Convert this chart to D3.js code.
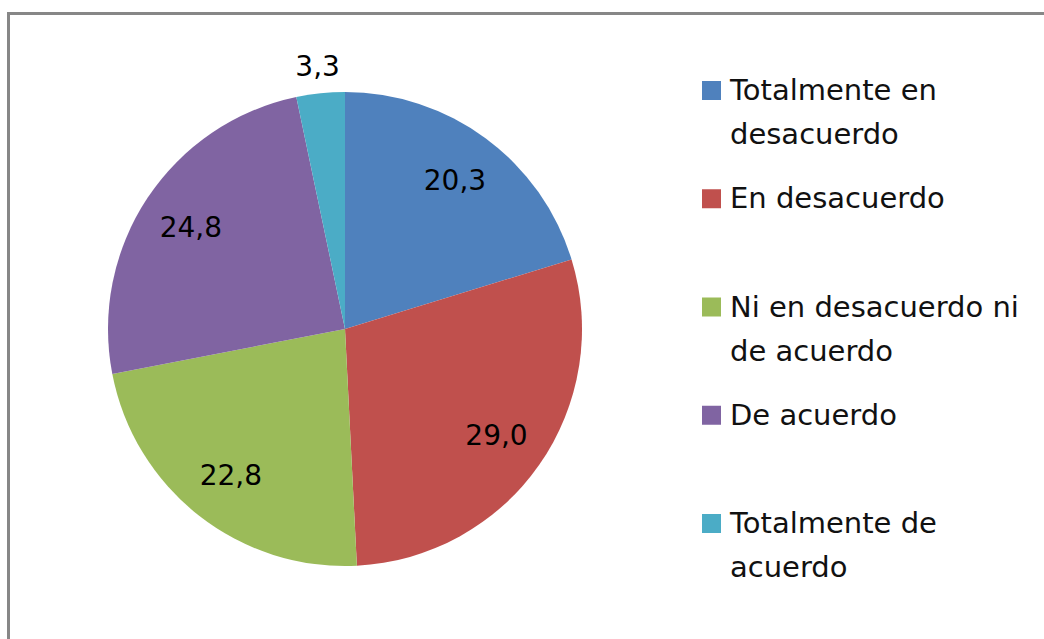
<!DOCTYPE html>
<meta charset="utf-8">
<style>
body { margin: 0; background: #fff; }
text { font-family: "DejaVu Sans", sans-serif; fill: #111; }
</style>
<body>
<script src="https://d3js.org/d3.v7.min.js"></script>
<script>

// data
var categories = ["Totalmente en desacuerdo", "En desacuerdo", "Ni en desacuerdo ni de acuerdo", "De acuerdo", "Totalmente de acuerdo"];
var legendLines = [["Totalmente en", "desacuerdo"], ["En desacuerdo"], ["Ni en desacuerdo ni", "de acuerdo"], ["De acuerdo"], ["Totalmente de", "acuerdo"]];
var values = [20.3, 29.0, 22.8, 24.8, 3.3];
var valueLabels = ["20,3", "29,0", "22,8", "24,8", "3,3"];
var colors = ["#4f81bd", "#c0504d", "#9bbb59", "#8064a2", "#4bacc6"];

var width = 1044, height = 639;
var cx = 345, cy = 329, radius = 237;

var svg = d3.select("body").append("svg")
    .attr("width", width)
    .attr("height", height);

// chart border (runs off the right and bottom edges)
svg.append("rect")
    .attr("x", 8.5).attr("y", 13.5)
    .attr("width", 1100).attr("height", 700)
    .attr("fill", "#fff")
    .attr("stroke", "#878787")
    .attr("stroke-width", 3);

var color = d3.scaleOrdinal().domain(categories).range(colors);

var pie = d3.pie().sort(null).value(function(d) { return d.value; });
var data = categories.map(function(c, i) { return {name: c, value: values[i], label: valueLabels[i]}; });

var arc = d3.arc().innerRadius(0).outerRadius(radius);
var labelArc = d3.arc().innerRadius(185).outerRadius(185);
var outerLabelArc = d3.arc().innerRadius(265).outerRadius(265);

var g = svg.append("g").attr("transform", "translate(" + cx + "," + cy + ")");

g.selectAll("path")
    .data(pie(data))
  .enter().append("path")
    .attr("d", arc)
    .attr("fill", function(d) { return color(d.data.name); });

g.selectAll("text.val")
    .data(pie(data))
  .enter().append("text")
    .attr("class", "val")
    .attr("transform", function(d) {
      var p = d.data.value < 5 ? outerLabelArc.centroid(d) : labelArc.centroid(d);
      return "translate(" + p + ")";
    })
    .attr("text-anchor", "middle")
    .attr("dy", "0.36em")
    .style("font-size", "28px")
    .style("fill", "#000")
    .text(function(d) { return d.data.label; });

// legend
var ly = d3.scalePoint().domain(categories).range([100, 533]);

var leg = svg.selectAll("g.legend")
    .data(categories)
  .enter().append("g")
    .attr("class", "legend")
    .attr("transform", function(d) { return "translate(702," + ly(d) + ")"; });

leg.append("rect")
    .attr("x", 0).attr("y", -19)
    .attr("width", 19).attr("height", 19)
    .attr("fill", function(d) { return color(d); });

leg.append("text")
    .attr("x", 28)
    .style("font-size", "29px")
    .selectAll("tspan")
    .data(function(d, i) { return legendLines[i]; })
  .enter().append("tspan")
    .attr("x", 28)
    .attr("y", function(d, j) { return j * 44; })
    .text(function(d) { return d; });

</script>
</body>
